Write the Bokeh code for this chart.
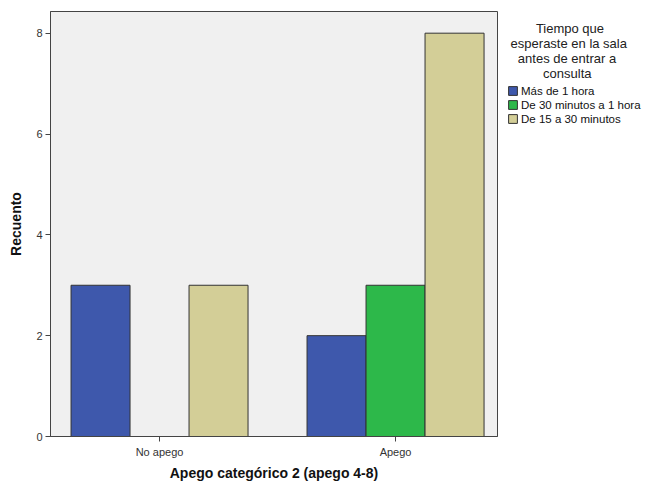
from bokeh.plotting import figure
from bokeh.models import Range1d, FixedTicker, Legend, LegendItem, ColumnDataSource
from bokeh.transform import dodge
from bokeh.embed import file_html
from bokeh.resources import INLINE

categories = ["No apego", "Apego"]
series_names = ["Más de 1 hora", "De 30 minutos a 1 hora", "De 15 a 30 minutos"]
mas_1_hora = [3, 2]
de_30_a_1 = [0, 3]
de_15_a_30 = [3, 8]
colors = ["#3E58AC", "#2DB84A", "#D3CE97"]
title_lines = ["Tiempo que", "esperaste en la sala", "antes de entrar a", "consulta"]

# non-breaking spaces used only to centre the legend title lines
pad = [8, 1, 3, 10]
legend_title = "\n".join("\u00a0" * n + t for n, t in zip(pad, title_lines))

xpos = list(range(len(categories)))
src = ColumnDataSource(dict(x=xpos, s0=mas_1_hora, s1=de_30_a_1, s2=de_15_a_30))

p = figure(frame_width=447, frame_height=425, output_backend="svg", toolbar_location=None,
           x_range=Range1d(-0.462, 1.432), y_range=Range1d(0, 8.43),
           min_border_left=50, min_border_top=11, min_border_right=0, min_border_bottom=36)
p.background_fill_color = "#F0F0F0"
p.border_fill_color = "white"
p.outline_line_color = "#444444"
p.outline_line_width = 1
p.grid.visible = False

renderers = []
for i, (col, c) in enumerate(zip(["s0", "s1", "s2"], colors)):
    r = p.vbar(x=dodge("x", (i - 1) * 0.25, range=p.x_range), top=col, width=0.25, bottom=0,
               source=src, fill_color=c, line_color="#333333", line_width=1)
    renderers.append(r)

p.xaxis.ticker = FixedTicker(ticks=xpos)
p.xaxis.major_label_overrides = {i: c for i, c in enumerate(categories)}
p.yaxis.ticker = FixedTicker(ticks=[0, 2, 4, 6, 8])
for ax in (p.xaxis, p.yaxis):
    ax.axis_line_color = "#444444"
    ax.major_tick_line_color = "#444444"
    ax.major_tick_out = 5
    ax.major_tick_in = 0
    ax.minor_tick_line_color = None
    ax.major_label_text_font = "Liberation Sans"
    ax.major_label_text_font_size = "11px"
    ax.major_label_text_color = "#333333"
    ax.axis_label_text_font = "Liberation Sans"
    ax.axis_label_text_font_size = "14px"
    ax.axis_label_text_font_style = "bold"
    ax.axis_label_text_color = "#111111"
p.xaxis.axis_label = "Apego categórico 2 (apego 4-8)"
p.yaxis.axis_label = "Recuento"
p.xaxis.major_label_standoff = 4
p.yaxis.major_label_standoff = 3
p.xaxis.axis_label_standoff = 4
p.yaxis.axis_label_standoff = 9

legend = Legend(items=[LegendItem(label=n, renderers=[r]) for n, r in zip(series_names, renderers)],
                location="top_left", orientation="vertical", title=legend_title)
legend.title_text_font = "Liberation Sans"
legend.title_text_font_size = "13px"
legend.title_text_font_style = "normal"
legend.title_text_color = "#222222"
legend.title_standoff = 3
legend.label_text_font = "Liberation Sans"
legend.label_text_font_size = "11.5px"
legend.label_text_color = "#111111"
legend.glyph_width = 11
legend.glyph_height = 11
legend.label_height = 13
legend.spacing = 1
legend.padding = 0
legend.margin = 10
legend.label_standoff = 3
legend.border_line_color = None
legend.background_fill_alpha = 0
p.add_layout(legend, "right")

open("out.html", "w").write(file_html(p, INLINE))
